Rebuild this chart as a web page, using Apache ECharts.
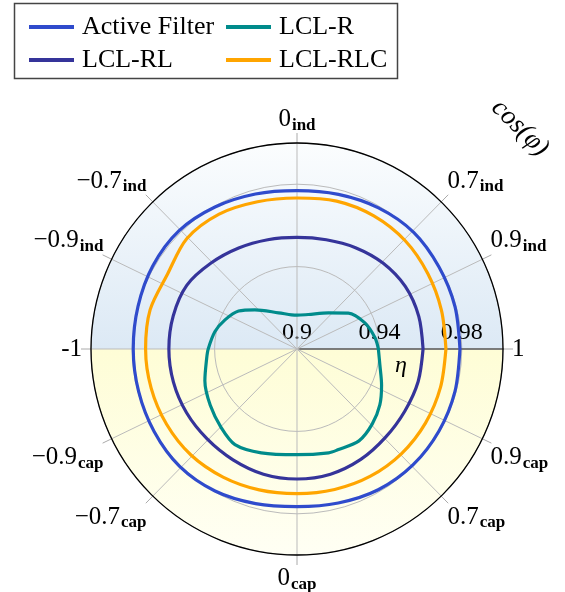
<!DOCTYPE html>
<html><head><meta charset="utf-8">
<script src="https://cdn.jsdelivr.net/npm/echarts@6/dist/echarts.min.js"></script>
<style>html,body{margin:0;padding:0;background:#fff}#c{width:565px;height:592px}</style>
</head><body><div id="c"></div><script>
// series names
const seriesNames = ['Active Filter', 'LCL-R', 'LCL-RL', 'LCL-RLC'];
// angle (deg, counter-clockwise from right) samples
const angles15 = [0,15,30,45,60,75,90,105,120,135,150,165,180,195,210,225,240,255,270,285,300,315,330,345,360];
const activeFilterEta = [0.9791,0.9794,0.9796,0.9801,0.9791,0.9777,0.9769,0.9779,0.9796,0.9811,0.9808,0.9799,0.9795,0.9796,0.9801,0.9806,0.9796,0.9777,0.9765,0.9774,0.9789,0.9796,0.9796,0.9794,0.9791];
const lclRLCEta = [0.9723,0.9726,0.9733,0.9743,0.9746,0.9743,0.9733,0.9740,0.9756,0.9757,0.9726,0.9738,0.9735,0.9733,0.9731,0.9728,0.9718,0.9708,0.9702,0.9706,0.9713,0.9718,0.9720,0.9721,0.9723];
const lclRLEta = [0.9612,0.9612,0.9607,0.9590,0.9568,0.9549,0.9542,0.9549,0.9566,0.9590,0.9618,0.9622,0.9622,0.9621,0.9619,0.9617,0.9621,0.9629,0.9631,0.9629,0.9619,0.9607,0.9604,0.9609,0.9612];
const lclRAngles = [0,8,21,35,49,72,90,99,117,137,147,158,168,180,186,199,213,226,237,251,270,287,292,304,315,326,337,349,360];
const lclREta = [0.9395,0.9383,0.9353,0.9304,0.9232,0.9176,0.9164,0.9168,0.9197,0.9279,0.9338,0.9377,0.9407,0.9431,0.9441,0.9473,0.9502,0.9530,0.9553,0.9533,0.9513,0.9527,0.9528,0.9538,0.9516,0.9485,0.9446,0.9410,0.9395];
// angular ticks: cos(phi) labels
const tickAngles = [0, 25.84, 45.57, 90, 134.43, 154.16, 180, 205.84, 225.57, 270, 314.43, 334.16];
const tickMain = ['1', '0.9', '0.7', '0', '\u22120.7', '\u22120.9', '-1', '\u22120.9', '\u22120.7', '0', '0.7', '0.9'];
const tickSub = ['', 'ind', 'ind', 'ind', 'ind', 'ind', '', 'cap', 'cap', 'cap', 'cap', 'cap'];
// radial ticks
const radialMin = 0.9, radialMax = 1.0, radialStep = 0.04;

const colors = {'Active Filter': '#2f4bcc', 'LCL-R': '#008b8b', 'LCL-RL': '#35349a', 'LCL-RLC': '#ffa500'};
const CX = 297, CY = 349, R = 206;
const serif = "'Liberation Serif', serif";

function pairs(eta, ang) { return eta.map((v, i) => [v, ang[i]]); }

const chart = echarts.init(document.getElementById('c'));
const mk = (name, data) => ({
  name, type: 'line', coordinateSystem: 'polar', data, showSymbol: false, smooth: 0.3,
  lineStyle: {width: 3.2, color: colors[name]}, itemStyle: {color: colors[name]}, z: 5
});

chart.setOption({
  animation: false,
  polar: {center: [CX, CY], radius: R},
  angleAxis: {
    type: 'value', min: 0, max: 360, startAngle: 0, clockwise: false, z: 4,
    axisLine: {show: true, lineStyle: {color: '#000', width: 1.3}},
    axisTick: {show: true, customValues: tickAngles, length: 10, lineStyle: {color: '#aaa', width: 1}},
    splitLine: {show: true, lineStyle: {color: '#bbb', width: 1}},
    axisLabel: {
      show: true, customValues: tickAngles, margin: 9,
      formatter: function (v) {
        let best = 0;
        for (let i = 0; i < tickAngles.length; i++) if (Math.abs(tickAngles[i] - v) < Math.abs(tickAngles[best] - v)) best = i;
        return tickSub[best] ? '{m|' + tickMain[best] + '}{s|' + tickSub[best] + '}' : '{m|' + tickMain[best] + '}';
      },
      rich: {
        m: {fontFamily: serif, fontSize: 25, color: '#000'},
        s: {fontFamily: serif, fontSize: 17, fontWeight: 'bold', color: '#000', padding: [12, 0, 0, 1]}
      }
    }
  },
  radiusAxis: {
    type: 'value', min: radialMin, max: radialMax, interval: radialStep, z: 3,
    axisLine: {show: true, lineStyle: {color: '#000', width: 1.5}},
    axisTick: {show: false},
    splitLine: {show: true, lineStyle: {color: '#bbb', width: 1}},
    axisLabel: {
      margin: 4, fontFamily: serif, fontSize: 24, color: '#000',
      formatter: v => (Math.abs(v - 1) < 1e-6 ? '' : String(+v.toFixed(2)))
    }
  },
  legend: [
    {data: ['Active Filter', 'LCL-RL'], orient: 'vertical', left: 24, top: 9, itemWidth: 45, itemHeight: 4, itemGap: 7, icon: 'rect',
     textStyle: {fontFamily: serif, fontSize: 26, color: '#000', padding: [0, 0, 0, 3]}},
    {data: ['LCL-R', 'LCL-RLC'], orient: 'vertical', left: 221, top: 9, itemWidth: 45, itemHeight: 4, itemGap: 7, icon: 'rect',
     textStyle: {fontFamily: serif, fontSize: 26, color: '#000', padding: [0, 0, 0, 3]}}
  ],
  graphic: [
    {type: 'sector', z: -10, silent: true, shape: {cx: CX, cy: CY, r: R, startAngle: Math.PI, endAngle: 2 * Math.PI},
     style: {fill: new echarts.graphic.LinearGradient(0, 0, 0, 1, [{offset: 0, color: '#fbfdfe'}, {offset: 1, color: '#dce9f5'}])}},
    {type: 'sector', z: -10, silent: true, shape: {cx: CX, cy: CY, r: R, startAngle: 0, endAngle: Math.PI},
     style: {fill: new echarts.graphic.LinearGradient(0, 0, 0, 1, [{offset: 0, color: '#fefdd6'}, {offset: 1, color: '#fffff4'}])}},
    {type: 'rect', z: 10, silent: true, shape: {x: 14.5, y: 3.5, width: 383, height: 75},
     style: {fill: null, stroke: '#444', lineWidth: 1.5}},
    {type: 'text', z: 10, x: 401, y: 366, style: {text: '\u03b7', font: 'italic 24px ' + serif, fill: '#000', align: 'center', verticalAlign: 'middle'}},
    {type: 'text', z: 10, x: 520, y: 128, rotation: -Math.PI / 4, style: {text: 'cos(\u03c6)', font: 'italic 27px ' + serif, fill: '#000', align: 'center', verticalAlign: 'middle'}}
  ],
  series: [
    mk('Active Filter', pairs(activeFilterEta, angles15)),
    mk('LCL-R', pairs(lclREta, lclRAngles)),
    mk('LCL-RL', pairs(lclRLEta, angles15)),
    mk('LCL-RLC', pairs(lclRLCEta, angles15))
  ]
});
</script></body></html>
